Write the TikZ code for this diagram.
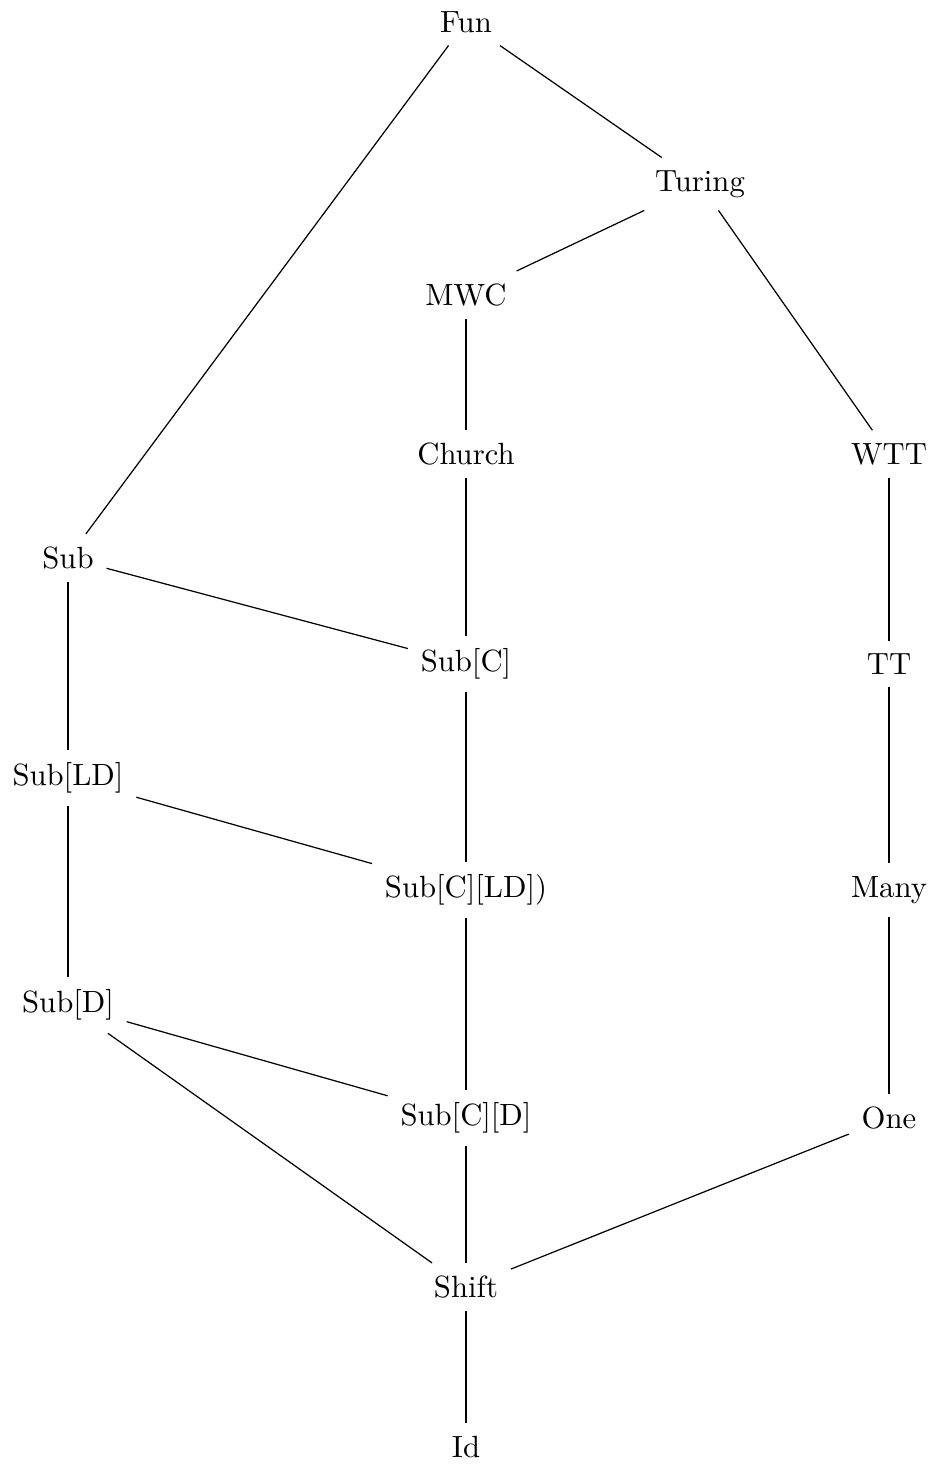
\documentclass[tikz,border=0pt]{standalone}
\usepackage{tikz}

\begin{document}
\begin{tikzpicture}[
  x=0.3257pt, y=-0.3257pt,
  lat/.style={inner sep=4pt},
  edge/.style={thin}
]
  \useasboundingbox (0,0) rectangle (932,1465);

  \node[lat] (fun) at (466,22) {Fun};
  \node[lat] (turing) at (700,184) {Turing};
  \node[lat] (mwc) at (466,295) {MWC};
  \node[lat] (church) at (466,454) {Church};
  \node[lat] (wtt) at (889,454) {WTT};
  \node[lat] (sub) at (68,558) {Sub};
  \node[lat] (subc) at (466,664) {Sub[C]};
  \node[lat] (tt) at (889,664) {TT};
  \node[lat] (subld) at (68,778) {Sub[LD]};
  \node[lat] (subcld) at (466,890) {Sub[C][LD])};
  \node[lat] (many) at (889,890) {Many};
  \node[lat] (subd) at (68,1005) {Sub[D]};
  \node[lat] (subcd) at (466,1118) {Sub[C][D]};
  \node[lat] (one) at (889,1118) {One};
  \node[lat] (shift) at (466,1287) {Shift};
  \node[lat] (id) at (466,1447) {Id};

  \draw[edge] (fun) -- (turing);
  \draw[edge] (fun) -- (sub);
  \draw[edge] (turing) -- (mwc);
  \draw[edge] (turing) -- (wtt);
  \draw[edge] (mwc) -- (church);
  \draw[edge] (church) -- (subc);
  \draw[edge] (wtt) -- (tt);
  \draw[edge] (sub) -- (subc);
  \draw[edge] (sub) -- (subld);
  \draw[edge] (subc) -- (subcld);
  \draw[edge] (tt) -- (many);
  \draw[edge] (subld) -- (subcld);
  \draw[edge] (subld) -- (subd);
  \draw[edge] (subcld) -- (subcd);
  \draw[edge] (many) -- (one);
  \draw[edge] (subd) -- (subcd);
  \draw[edge] (subd) -- (shift);
  \draw[edge] (subcd) -- (shift);
  \draw[edge] (one) -- (shift);
  \draw[edge] (shift) -- (id);
\end{tikzpicture}
\end{document}
